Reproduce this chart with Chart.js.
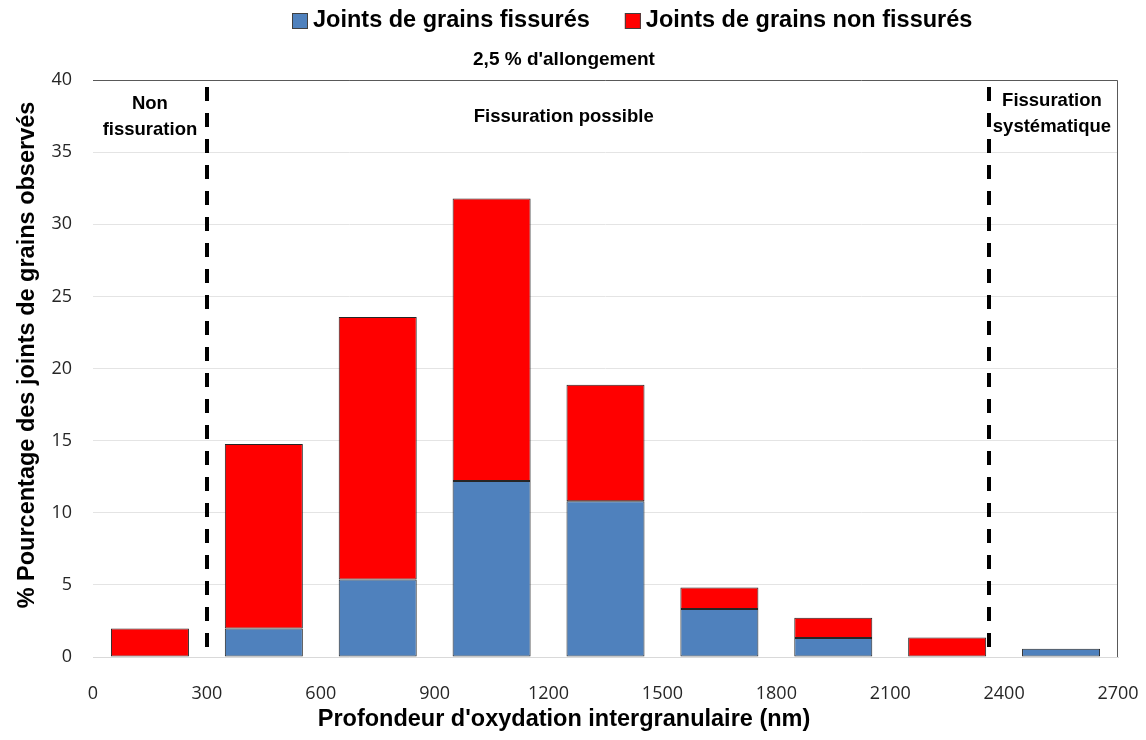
<!DOCTYPE html>
<html>
<head>
<meta charset="utf-8">
<script src="https://cdn.jsdelivr.net/npm/chart.js@4/dist/chart.umd.min.js"></script>
<style>
  html, body { margin: 0; padding: 0; background: #ffffff; }
  #wrap { width: 1146px; height: 740px; position: relative; }
</style>
</head>
<body>
<div id="wrap"><canvas id="c" width="1146" height="740"></canvas></div>
<script>
// ---- Data ----
const depthCenters = [150, 450, 750, 1050, 1350, 1650, 1950, 2250, 2550];
const fissures     = [0, 1.97, 5.37, 12.2, 10.79, 3.33, 1.32, 0, 0.58];
const nonFissures  = [1.97, 12.8, 18.2, 19.58, 8.09, 1.48, 1.40, 1.35, 0];
const seriesNames  = ['Joints de grains fissurés', 'Joints de grains non fissurés'];
const seriesColors = ['#4F81BD', '#FF0000'];
const xTicks       = [0, 300, 600, 900, 1200, 1500, 1800, 2100, 2400, 2700];
const yTicks       = [0, 5, 10, 15, 20, 25, 30, 35, 40];
const thresholds   = [300, 2360];
const zoneLabels   = [
  { x: 150,  lines: ['Non', 'fissuration'] },
  { x: 1240, lines: ['Fissuration possible'] },
  { x: 2526, lines: ['Fissuration', 'systématique'] }
];
const subtitleText = "2,5 % d'allongement";
const xTitle = "Profondeur d'oxydation intergranulaire (nm)";
const yTitle = '% Pourcentage des joints de grains observés';

const FONT = "'Liberation Sans', Arial, sans-serif";
const TICKFONT = "'Open Sans', 'Noto Sans', sans-serif";

const overlay = {
  id: 'overlay',
  afterDatasetsDraw(chart) {
    const { ctx, chartArea: a, scales: { x, y } } = chart;
    ctx.save();
    // frame top and right
    ctx.strokeStyle = '#595959';
    ctx.lineWidth = 1;
    ctx.beginPath();
    ctx.moveTo(a.left, a.top + 0.5);
    ctx.lineTo(a.right - 0.5, a.top + 0.5);
    ctx.lineTo(a.right - 0.5, a.bottom);
    ctx.stroke();
    // dashed threshold lines
    ctx.strokeStyle = '#000000';
    ctx.lineWidth = 4;
    ctx.setLineDash([14, 12]);
    thresholds.forEach(v => {
      const px = Math.round(x.getPixelForValue(v));
      ctx.beginPath();
      ctx.moveTo(px, a.top + 7);
      ctx.lineTo(px, a.bottom);
      ctx.stroke();
    });
    ctx.setLineDash([]);
    // zone labels
    ctx.fillStyle = '#000000';
    ctx.font = "bold 18.5px " + FONT;
    ctx.textAlign = 'center';
    ctx.textBaseline = 'middle';
    zoneLabels.forEach((z, k) => {
      const px = x.getPixelForValue(z.x);
      const n = z.lines.length;
      z.lines.forEach((t, i) => {
        let py;
        if (n === 1) py = a.top + 37;
        else py = a.top + (k === 0 ? 24 : 21) + i * 26;
        ctx.fillText(t, px, py);
      });
    });
    ctx.restore();
  },
  afterDraw(chart) {
    const { ctx } = chart;
    ctx.save();
    ctx.fillStyle = '#000000';
    // legend
    ctx.font = "bold 23.5px " + FONT;
    ctx.textBaseline = 'middle';
    ctx.textAlign = 'left';
    let cx = 292;
    const ly = 21;
    chart.data.datasets.forEach((ds) => {
      ctx.fillStyle = ds.backgroundColor;
      ctx.fillRect(cx, ly - 8, 16, 16);
      ctx.strokeStyle = '#404040';
      ctx.lineWidth = 1;
      ctx.strokeRect(cx + 0.5, ly - 7.5, 15, 15);
      ctx.fillStyle = '#000000';
      ctx.fillText(ds.label, cx + 21, ly);
      cx += 21 + ctx.measureText(ds.label).width + 35;
    });
    // subtitle
    ctx.textAlign = 'center';
    ctx.font = "bold 19px " + FONT;
    ctx.fillText(subtitleText, 564, 60);
    // x title
    ctx.font = "bold 23.5px " + FONT;
    ctx.fillText(xTitle, 564, 720);
    // y title
    ctx.translate(28, 355);
    ctx.rotate(-Math.PI / 2);
    ctx.fillText(yTitle, 0, 0);
    ctx.restore();
  }
};

new Chart(document.getElementById('c'), {
  type: 'bar',
  data: {
    datasets: [
      {
        label: seriesNames[0],
        data: depthCenters.map((c, i) => ({ x: c, y: fissures[i] })),
        backgroundColor: seriesColors[0],
        borderColor: '#262626',
        borderWidth: 1,
        borderSkipped: false
      },
      {
        label: seriesNames[1],
        data: depthCenters.map((c, i) => ({ x: c, y: nonFissures[i] })),
        backgroundColor: seriesColors[1],
        borderColor: '#262626',
        borderWidth: 1,
        borderSkipped: false
      }
    ]
  },
  options: {
    responsive: false,
    animation: false,
    layout: { padding: { top: 80, right: 28, left: 0, bottom: 6 } },
    datasets: { bar: { categoryPercentage: 1.0, barPercentage: 0.685 } },
    plugins: {
      legend: { display: false },
      title: { display: false },
      tooltip: { enabled: false }
    },
    scales: {
      x: {
        type: 'linear',
        stacked: true,
        offset: false,
        min: 0,
        max: 2700,
        afterBuildTicks(s) { s.ticks = xTicks.map(v => ({ value: v })); },
        afterFit(s) { s.height = 77; s.paddingLeft = 0; s.paddingRight = 0; },
        ticks: {
          color: '#262626',
          font: { family: TICKFONT, size: 18 },
          padding: 26,
          maxRotation: 0,
          callback: v => String(v)
        },
        grid: { display: false, drawTicks: false },
        border: { display: true, color: '#D9D9D9', width: 1 },
        title: { display: false }
      },
      y: {
        stacked: true,
        min: 0,
        max: 40,
        afterBuildTicks(s) { s.ticks = yTicks.map(v => ({ value: v })); },
        afterFit(s) { s.width = 93; s.paddingTop = 0; s.paddingBottom = 0; },
        ticks: {
          color: '#262626',
          font: { family: TICKFONT, size: 18 },
          padding: 21,
          callback: v => String(v)
        },
        grid: { color: '#E4E4E4', lineWidth: 1, drawTicks: false },
        border: { display: false },
        title: { display: false }
      }
    }
  },
  plugins: [overlay]
});
</script>
</body>
</html>
